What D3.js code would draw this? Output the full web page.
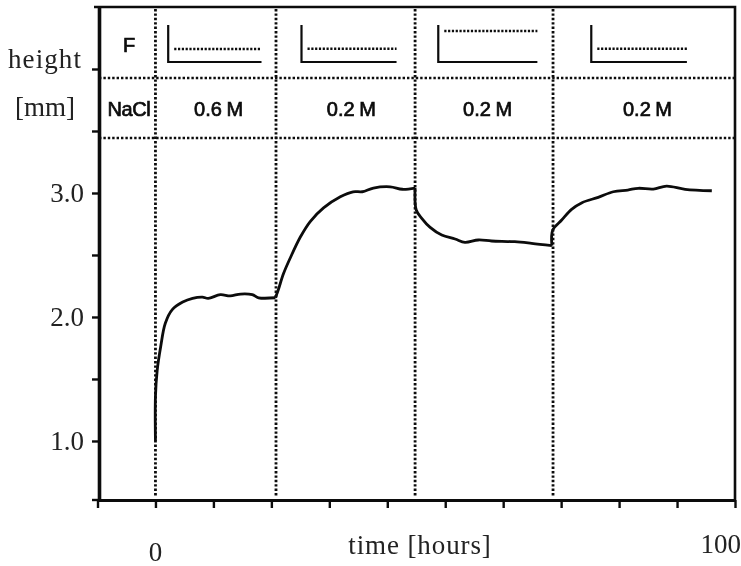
<!DOCTYPE html>
<html>
<head>
<meta charset="utf-8">
<script src="https://cdn.jsdelivr.net/npm/d3@7"></script>
<style>
    html, body { margin: 0; padding: 0; background: #fff; }
    svg { display: block; filter: blur(0.45px); }
</style>
</head>
<body>
<script>
// Height curve, one pair of arrays per phase
var hoursA = [0, 0, 0.3, 0.9, 1.7, 2.9, 4.7, 6.4, 8.1, 9.1, 11.2, 12.9, 14.7, 16.7, 17.8, 20.7];
var heightsA = [1.0, 1.36, 1.57, 1.76, 1.95, 2.06, 2.12, 2.15, 2.16, 2.15, 2.18, 2.17, 2.185, 2.18, 2.155, 2.155];
var hoursB = [20.7, 21.2, 22.1, 23.3, 25, 26.7, 29, 31.9, 34.1, 35.7, 37.6, 40.5, 42.6, 44.8];
var heightsB = [2.155, 2.22, 2.35, 2.48, 2.645, 2.77, 2.88, 2.97, 3.01, 3.01, 3.04, 3.05, 3.03, 3.04];
var hoursC = [44.8, 45, 45.95, 47.4, 49.4, 51.7, 53.4, 55.7, 58, 62, 64.9, 68.4];
var heightsC = [3.04, 2.863, 2.796, 2.723, 2.661, 2.629, 2.602, 2.621, 2.613, 2.607, 2.594, 2.575];
var hoursD = [68.4, 68.55, 70.1, 71.8, 73.6, 76.4, 79, 81.5, 83.3, 85.9, 88.2, 91.4, 96];
var heightsD = [2.575, 2.701, 2.782, 2.868, 2.922, 2.965, 3.01, 3.024, 3.038, 3.032, 3.056, 3.03, 3.018];

// Solution changes and the table rows at the top
var phaseLines = [0, 20.8, 44.8, 68.6];
var rowLines = [3.927, 3.444];
var saltLabels = ["0.6 M", "0.2 M", "0.2 M", "0.2 M"];
var saltCenters = [10.9, 33.8, 57.3, 84.9];

// Little force profiles, one per phase
var profileStart = [2.2, 25.2, 48.8, 75.2];
var profileEnd = [18.3, 41.6, 65.9, 91.7];
var profileLevel = [0.36, 0.37, 0.86, 0.37];

// Ticks
var xTicks = d3.range(-10, 101, 10);
var yTicks = [1, 1.5, 2, 2.5, 3, 3.5, 4];
var yLabels = [1, 2, 3];

var width = 741, height = 566;
var serif = "'Liberation Serif', serif";
var sans = "'Liberation Sans', sans-serif";
var ink = "#0c0c0c";

var svg = d3.select("body").append("svg")
    .attr("width", width)
    .attr("height", height);

var x = d3.scaleLinear().domain([-10, 100]).range([97.5, 735]);
var y = d3.scaleLinear().domain([0.524, 4.5]).range([500, 7]);
var yProfile = d3.scaleLinear().domain([0, 1]).range([62, 26]);

// Dotted lines first so that the curve and frame lie over them
function dotted(sel) {
    sel.attr("stroke", ink)
        .attr("stroke-width", 2.8)
        .attr("stroke-dasharray", "2.4 2")
        .attr("fill", "none");
}

svg.selectAll(".phaseLine")
    .data(phaseLines)
    .enter()
    .append("line")
        .attr("class", "phaseLine")
        .attr("x1", function (d) { return x(d); })
        .attr("x2", function (d) { return x(d); })
        .attr("y1", y.range()[1] + 2)
        .attr("y2", y.range()[0] - 3)
        .call(dotted);

svg.selectAll(".rowLine")
    .data(rowLines)
    .enter()
    .append("line")
        .attr("class", "rowLine")
        .attr("x1", 99)
        .attr("x2", x(100))
        .attr("y1", function (d) { return y(d); })
        .attr("y2", function (d) { return y(d); })
        .call(dotted)
        .attr("stroke-width", 2.4);

// Frame
svg.append("path")
    .attr("d", "M94," + y(4.5) + "H" + x(100) + "V" + y.range()[0])
    .attr("fill", "none")
    .attr("stroke", ink)
    .attr("stroke-width", 2.6);

// Axes
var xAxis = svg.append("g")
    .attr("transform", "translate(0," + y.range()[0] + ")")
    .call(d3.axisBottom(x).tickValues(xTicks).tickSize(8).tickSizeOuter(0).tickFormat(""));

var yAxis = svg.append("g")
    .attr("transform", "translate(99,0)")
    .call(d3.axisLeft(y).tickValues(yTicks).tickSize(7).tickSizeOuter(0).tickFormat(""));

[xAxis, yAxis].forEach(function (axis) {
    axis.selectAll("path, line")
        .attr("stroke", ink);
    axis.selectAll("line")
        .attr("stroke-width", 2.4);
});
xAxis.select("path").attr("stroke-width", 2.8);
yAxis.select("path").attr("stroke-width", 3.6);

// left end of the baseline reaches past the y axis
svg.append("line")
    .attr("x1", 92)
    .attr("x2", 99)
    .attr("y1", y.range()[0])
    .attr("y2", y.range()[0])
    .attr("stroke", ink)
    .attr("stroke-width", 2.4);

// Force profiles
profileStart.forEach(function (start, i) {
    svg.append("path")
        .attr("d", "M" + x(start) + "," + (yProfile(1) - 1) + "V" + yProfile(0) + "H" + x(profileEnd[i]))
        .attr("fill", "none")
        .attr("stroke", ink)
        .attr("stroke-width", 2.2);
    svg.append("line")
        .attr("x1", x(start) + 6)
        .attr("x2", x(profileEnd[i]))
        .attr("y1", yProfile(profileLevel[i]))
        .attr("y2", yProfile(profileLevel[i]))
        .attr("stroke", ink)
        .attr("stroke-width", 2.6)
        .attr("stroke-dasharray", "2.2 1.6");
});

// Height curve, a separate smooth piece per phase so the jumps stay sharp
var segments = [
    [hoursA, heightsA],
    [hoursB, heightsB],
    [hoursC, heightsC],
    [hoursD, heightsD]
];

segments.forEach(function (seg) {
    var line = d3.line()
        .curve(d3.curveCatmullRom.alpha(0.5))
        .x(function (d, i) { return x(seg[0][i]); })
        .y(function (d) { return y(d); });

    svg.append("path")
        .attr("d", line(seg[1]))
        .attr("fill", "none")
        .attr("stroke", ink)
        .attr("stroke-width", 2.8)
        .attr("stroke-linejoin", "round");
});

// Serif texts
function serifText(str, px, py, anchor, spacing) {
    return svg.append("text")
        .attr("x", px)
        .attr("y", py)
        .attr("text-anchor", anchor)
        .style("font-family", serif)
        .style("font-size", "27px")
        .style("letter-spacing", (spacing || 0) + "px")
        .style("fill", "#222")
        .text(str);
}

serifText("height", 45, 68, "middle", 1.1);
serifText("[mm]", 45, 116, "middle", 0);
serifText("time [hours]", 420, 554, "middle", 0.9);
serifText("0", x(0), 561, "middle");
serifText("100", 741, 553, "end");

yLabels.forEach(function (d) {
    serifText(d3.format(".1f")(d), 84, y(d) + 9, "end");
});

// Sans texts in the table rows
function sansText(str, px, py) {
    return svg.append("text")
        .attr("x", px)
        .attr("y", py)
        .attr("text-anchor", "middle")
        .style("font-family", sans)
        .style("font-size", "20px")
        .style("fill", ink)
        .style("stroke", ink)
        .style("stroke-width", 0.7)
        .text(str);
}

sansText("F", 129, 52);
sansText("NaCl", 129, 116).style("letter-spacing", "-0.4px");
saltLabels.forEach(function (d, i) {
    sansText(d, x(saltCenters[i]), 116).style("word-spacing", "-1px");
});
</script>
</body>
</html>
